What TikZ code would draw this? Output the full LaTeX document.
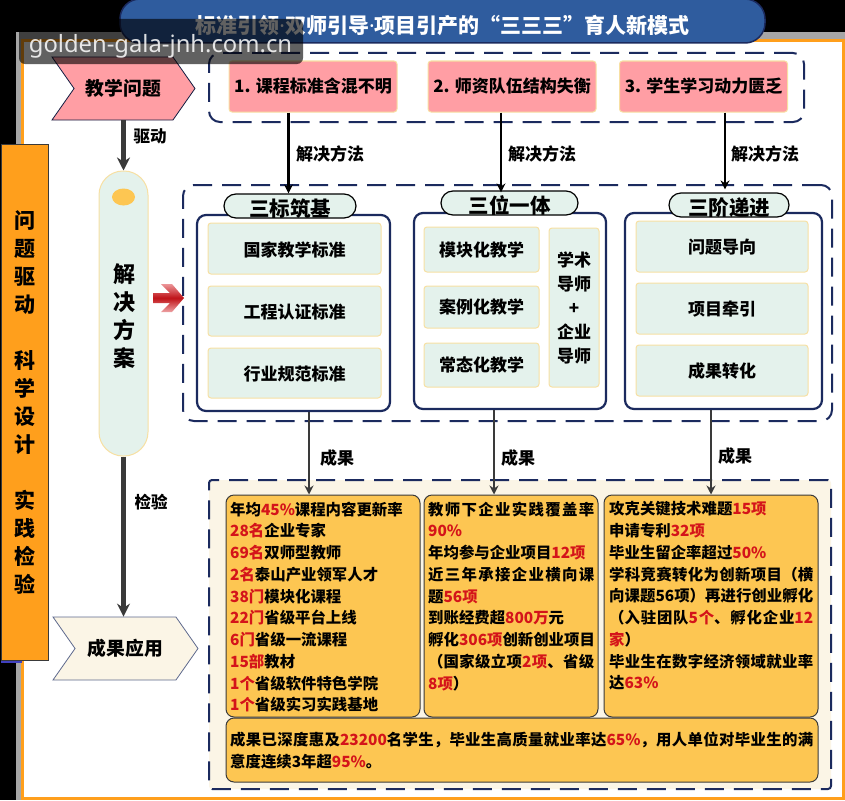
\documentclass[tikz,border=0pt]{standalone}
\usepackage{fontspec}
\setmainfont{Noto Sans CJK SC}
\newfontfamily\markfont{Noto Sans}
\usetikzlibrary{arrows.meta,shapes.geometric,shapes.symbols}
\XeTeXlinebreaklocale "zh"
\XeTeXlinebreakskip=0pt plus 3pt
\definecolor{framecol}{HTML}{FF9F1C}
\definecolor{navycol}{HTML}{1B2A5E}
\definecolor{titlecol}{HTML}{2F5C9E}
\definecolor{pinkcol}{HTML}{FF9EA4}
\definecolor{minty}{HTML}{E4F2EC}
\definecolor{sandcol}{HTML}{F7E0A3}
\definecolor{creamcol}{HTML}{FBF5E6}
\definecolor{goldcol}{HTML}{FDC652}
\definecolor{hotred}{HTML}{D4141A}
\definecolor{darkline}{HTML}{3A3A3A}
\newcommand{\bsz}[2]{\fontsize{#1}{#2}\selectfont\bfseries}
\newcommand{\hot}[1]{\textcolor{hotred}{#1}}
\newcommand{\tdot}{{\markfont\bfseries ·}}
\newcommand{\drop}[2]{\raisebox{-#1}[\height][\depth]{#2}}

\begin{document}
\begin{tikzpicture}[x=1pt,y=-1pt]
	\tikzset{
		dashbox/.style={draw=navycol,line width=2pt,dash pattern=on 19pt off 10pt,rounded corners=11pt,inner sep=0pt},
		prob/.style={draw=sandcol,fill=pinkcol,line width=1pt,rounded corners=3pt,minimum width=168pt,minimum height=51pt,inner sep=0pt,font=\bsz{17}{20}},
		grp/.style={draw=navycol,fill=white,line width=2.2pt,rounded corners=9pt,inner sep=0pt},
		grptitle/.style={draw=black,fill=minty,line width=1.2pt,rounded corners=12pt,minimum height=24pt,inner sep=0pt,font=\bsz{20.5}{24}},
		item/.style={draw=sandcol,fill=minty,line width=1pt,rounded corners=3pt,inner sep=0pt,font=\bsz{17}{24},align=center},
		res/.style={draw=darkline,fill=goldcol,line width=1pt,rounded corners=8pt,inner sep=0pt},
		restext/.style={inner sep=0pt,anchor=north west,align=justify,font=\bsz{15.4}{21.75}},
		tag/.style={inner sep=0pt,font=\bsz{17}{20}},
		fat/.style={draw=darkline,line width=5pt,-{Stealth[length=13pt,width=13pt]}},
		thin/.style={draw=black,line width=2.6pt,-{Stealth[length=9pt,width=9pt]}},
		mid/.style={draw=darkline,line width=2.6pt,-{Stealth[length=9pt,width=9pt]}},
		chev/.style={signal,signal from=west,signal to=east,signal pointer angle=110,line width=.8pt,inner sep=0pt,font=\bsz{18.8}{22}},
	}
	\useasboundingbox (0,0) rectangle (845,800);
	\fill[black] (0,0) rectangle (845,800);
	\fill[gray!70] (16,32) rectangle (845,800);
	\draw[framecol,line width=3pt,fill=white] (22,41) rectangle (843.5,798.5);

	\node[draw=navycol,line width=1.5pt,fill=titlecol,rounded corners=20pt,minimum width=645pt,minimum height=44pt,inner sep=0pt,text=white,font=\bsz{21}{24}] (title) at (442.5,21) {\drop{4pt}{标准引领\tdot 双师引导\tdot 项目引产的“三三三”育人新模式}};

	\fill[blue!50!gray] (1,660) rectangle (22,663);
	\node[draw=darkline,line width=1pt,fill=framecol,minimum width=47pt,minimum height=516pt,inner sep=0pt,align=center,font=\bsz{21}{28}] (side) at (24.5,402) {问\\题\\驱\\动\\[28pt]科\\学\\设\\计\\[28pt]实\\践\\检\\验};

	\node[chev,draw=navycol!70!black,fill=pinkcol,minimum width=143pt,minimum height=63pt] (question) at (123.5,88.5) {教学问题};
	\node[draw=sandcol,line width=1pt,fill=minty,rounded corners=24pt,minimum width=49pt,minimum height=285pt,inner sep=0pt] (solution) at (123.5,313.5) {};
	\node[inner sep=0pt,align=center,font=\bsz{22}{28}] (solutext) at (124,316.5) {解\\决\\方\\案};
	\node[ellipse,fill=goldcol,minimum width=23pt,minimum height=17pt,inner sep=0pt] (dot) at (123.5,197) {};
	\node[chev,draw=navycol!70,fill=creamcol,minimum width=145pt,minimum height=63pt] (apply) at (125.5,648.5) {成果应用};
	\shade[top color=hotred!45,bottom color=hotred!40,middle color=hotred!90!black] (153,293) -- (170,293) -- (161,284) -- (172,284) -- (184,298) -- (172,312) -- (161,312) -- (170,303) -- (153,303) -- cycle;

	\node[dashbox,minimum width=595pt,minimum height=69pt] (toprow) at (506.5,87.5) {};
	\node[prob] (p1) at (313,86.5) {1. 课程标准含混不明};
	\node[prob] (p2) at (512,86.5) {2. 师资队伍结构失衡};
	\node[prob] (p3) at (703.5,86.5) {3. 学生学习动力匮乏};

	\node[dashbox,minimum width=649pt,minimum height=236pt] (midrow) at (507.5,303) {};
	\node[grp,minimum width=193pt,minimum height=196pt] (g1) at (293.5,313) {};
	\node[grp,minimum width=192pt,minimum height=196pt] (g2) at (510,311) {};
	\node[grp,minimum width=197pt,minimum height=196pt] (g3) at (723.5,311) {};
	\node[grptitle,minimum width=132pt] (t1) at (290,206) {\drop{3pt}{三标筑基}};
	\node[grptitle,minimum width=137pt] (t2) at (509.5,203) {\drop{3pt}{三位一体}};
	\node[grptitle,minimum width=120pt] (t3) at (729,205) {\drop{3pt}{三阶递进}};

	\node[item,minimum width=173pt,minimum height=51pt] (a1) at (294.5,248.5) {\drop{1pt}{国家教学标准}};
	\node[item,minimum width=173pt,minimum height=50pt] (a2) at (294.5,311) {\drop{1pt}{工程认证标准}};
	\node[item,minimum width=173pt,minimum height=50pt] (a3) at (294.5,373) {\drop{1pt}{行业规范标准}};
	\node[item,minimum width=115pt,minimum height=45pt] (b1) at (481.5,249.5) {模块化教学};
	\node[item,minimum width=115pt,minimum height=42pt] (b2) at (481.5,307) {案例化教学};
	\node[item,minimum width=115pt,minimum height=44pt] (b3) at (481.5,365) {常态化教学};
	\node[item,minimum width=50pt,minimum height=159pt] (b4) at (574,307.5) {学术\\导师\\+\\企业\\导师};
	\node[item,minimum width=172pt,minimum height=51pt] (c1) at (722,246.5) {\drop{1pt}{问题导向}};
	\node[item,minimum width=172pt,minimum height=51pt] (c2) at (722,308.5) {\drop{1pt}{项目牵引}};
	\node[item,minimum width=172pt,minimum height=51pt] (c3) at (722,370.5) {\drop{1pt}{成果转化}};

	\node[dashbox,fill=creamcol,rounded corners=3pt,minimum width=622pt,minimum height=309pt] (botrow) at (520,634.5) {};
	\node[res,minimum width=194pt,minimum height=222pt] (r1) at (323,606) {};
	\node[res,minimum width=174pt,minimum height=222pt] (r2) at (511,606) {};
	\node[res,minimum width=214pt,minimum height=222pt] (r3) at (711,606) {};
	\node[res,minimum width=592pt,minimum height=64pt] (r4) at (522,750) {};

	\node[restext,text width=186pt] (r1text) at (230,501.5) {年均\hot{45\%}课程内容更新率\\
		\hot{28名}企业专家\\
		\hot{69名}双师型教师\\
		\hot{2名}泰山产业领军人才\\
		\hot{38门}模块化课程\\
		\hot{22门}省级平台上线\\
		\hot{6门}省级一流课程\\
		\hot{15部}教材\\
		\hot{1个}省级软件特色学院\\
		\hot{1个}省级实习实践基地};
	\node[restext,text width=166pt] (r2text) at (428,501.5) {教师下企业实践覆盖率\linebreak
		\hot{90\%}\\
		年均参与企业项目\hot{12项}\\
		近三年承接企业横向课\linebreak
		题\hot{56项}\\
		到账经费超\hot{800万}元\\
		\mbox{孵化\hot{306项}创新创业项目}\\
		（国家级立项\hot{2项}、省级\linebreak
		\hot{8项}）};
	\node[restext,text width=204pt] (r3text) at (609,501.5) {攻克关键技术难题\hot{15项}\\
		申请专利\hot{32项}\\
		毕业生留企率超过\hot{50\%}\\
		学科竞赛转化为创新项目（横\linebreak
		向课题56项）再进行创业孵化\linebreak
		（入驻团队\hot{5个}、孵化企业\hot{12}\linebreak
		\hot{家}）\\
		毕业生在数字经济领域就业率\linebreak
		达\hot{63\%}};
	\node[restext,text width=583pt] (r4text) at (230,732) {成果已深度惠及\hot{23200}名学生，毕业生高质量就业率达\hot{65\%}，用人单位对毕业生的满\linebreak
		意度连续3年超\hot{95\%}。};

	\draw[fat] (question.south) -- (solution.north);
	\draw[fat] (solution.south) -- (solution.south |- apply.north);
	\draw[thin] ([xshift=-1.5pt]t1.north |- p1.south) -- ([xshift=-1.5pt]t1.north);
	\draw[thin] ([xshift=-8.5pt]t2.north |- p2.south) -- ([xshift=-8.5pt,yshift=-2pt]t2.north);
	\draw[thin] ([xshift=-4pt]t3.north |- p3.south) -- ([xshift=-4pt,yshift=3pt]t3.north);
	\draw[mid] ([xshift=15.5pt]g1.south) -- ([xshift=15.5pt]g1.south |- r1.north);
	\draw[mid] ([xshift=-16pt]g2.south) -- ([xshift=-16pt]g2.south |- r2.north);
	\draw[mid] ([xshift=-12.5pt]g3.south) -- ([xshift=-12.5pt]g3.south |- r3.north);

	\node[tag,font=\bsz{16.5}{20}] (drive) at (150,136) {驱动};
	\node[tag,font=\bsz{16.5}{20}] (check) at (151,502) {检验};
	\node[tag] (how1) at (330,154) {解决方法};
	\node[tag] (how2) at (542,154) {解决方法};
	\node[tag] (how3) at (765,154) {解决方法};
	\node[tag] (out1) at (337,458) {成果};
	\node[tag] (out2) at (518,458) {成果};
	\node[tag] (out3) at (735,456) {成果};

	\node[fill=black,fill opacity=.62,rounded corners=6pt,minimum width=284pt,minimum height=45pt,inner sep=0pt] (markbox) at (161,41.5) {};
	\node[text=white,text opacity=.85,inner sep=0pt,font=\markfont\fontsize{23.8}{28}\selectfont] (mark) at (160.5,46) {golden-gala-jnh.com.cn};
\end{tikzpicture}
\end{document}
